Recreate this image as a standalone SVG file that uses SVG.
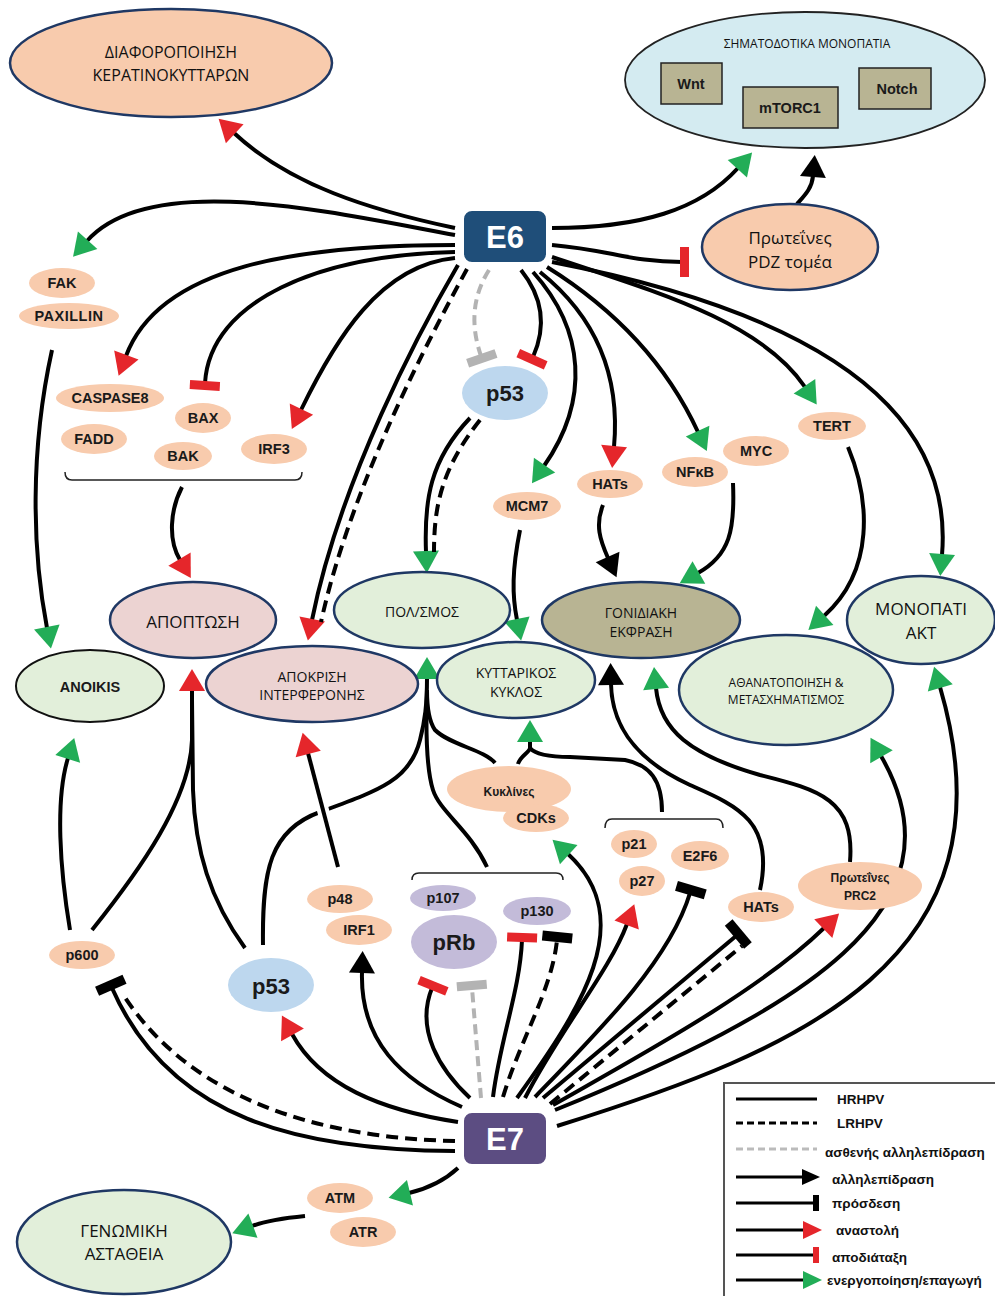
<svg xmlns="http://www.w3.org/2000/svg" width="995" height="1296" viewBox="0 0 995 1296">
<style>
.ln{fill:none;stroke:#000;stroke-width:4}
.ds{fill:none;stroke:#000;stroke-width:4;stroke-dasharray:12 7}
.gd{fill:none;stroke:#b3b3b3;stroke-width:4;stroke-dasharray:10 6}
.wh{fill:none;stroke:#fff;stroke-width:12}
.br{fill:none;stroke:#222;stroke-width:1.5}
.pe{fill:#f8cbad}
.big{stroke:#1f3864;stroke-width:2.5}
.gr{fill:#e2efda}
.pk{fill:#ecd3d2}
.kh{fill:#b8b493}
.sm{font-family:"Liberation Sans",Arial,sans-serif;font-weight:bold;font-size:14.5px;fill:#1a1a1a;text-anchor:middle;dominant-baseline:central}
.lg{font-family:"Open Sans","Liberation Sans",sans-serif;font-size:17px;fill:#111;text-anchor:middle;dominant-baseline:central}
.md{font-family:"Open Sans","Liberation Sans",sans-serif;font-size:14px;fill:#111;text-anchor:middle;dominant-baseline:central}
.box{font-family:"Liberation Sans",Arial,sans-serif;font-weight:bold;font-size:31px;fill:#fff;text-anchor:middle;dominant-baseline:central}
.leg{font-family:"Liberation Sans",Arial,sans-serif;font-weight:bold;font-size:13.5px;fill:#111;dominant-baseline:central}
</style>
<defs>
<marker id="mg" markerUnits="userSpaceOnUse" markerWidth="24" markerHeight="28" refX="1" refY="13" orient="auto" overflow="visible"><path d="M0,0 L22,13 L0,26 Z" fill="#22ad57"/></marker>
<marker id="mr" markerUnits="userSpaceOnUse" markerWidth="24" markerHeight="28" refX="1" refY="13" orient="auto" overflow="visible"><path d="M0,0 L22,13 L0,26 Z" fill="#e5262b"/></marker>
<marker id="mb" markerUnits="userSpaceOnUse" markerWidth="24" markerHeight="28" refX="1" refY="13" orient="auto" overflow="visible"><path d="M0,0 L22,13 L0,26 Z" fill="#000"/></marker>
<marker id="tr" markerUnits="userSpaceOnUse" markerWidth="10" markerHeight="30" refX="2" refY="15" orient="auto" overflow="visible"><rect x="0" y="0" width="9" height="30" fill="#e5262b"/></marker>
<marker id="tb" markerUnits="userSpaceOnUse" markerWidth="10" markerHeight="30" refX="2" refY="15" orient="auto" overflow="visible"><rect x="0" y="0" width="10" height="30" fill="#000"/></marker>
<marker id="tg" markerUnits="userSpaceOnUse" markerWidth="10" markerHeight="30" refX="2" refY="15" orient="auto" overflow="visible"><rect x="0" y="0" width="9" height="30" fill="#b3b3b3"/></marker>
</defs>
<rect width="995" height="1296" fill="#fff"/>

<g id="connectors">
<path class="ln" d="M455,228 C370,210 290,185 234,133" marker-end="url(#mr)"/>
<path class="ln" d="M455,235 C330,212 150,170 87,241" marker-end="url(#mg)"/>
<path class="ln" d="M455,245 C300,245 160,265 126,356" marker-end="url(#mr)"/>
<path class="ln" d="M455,252 C320,255 210,300 205,383" marker-end="url(#tr)"/>
<path class="ln" d="M455,258 C380,265 335,340 301,410" marker-end="url(#mr)"/>
<path class="ln" d="M458,265 C420,330 340,480 312,620" marker-end="url(#mr)"/>
<path class="ds" d="M467,269 C431,335 351,485 321,622"/>
<path class="gd" d="M489,270 C470,300 472,330 481,356" marker-end="url(#tg)"/>
<path class="ln" d="M521,270 C545,300 545,330 533,357" marker-end="url(#tr)"/>
<path class="ln" d="M533,272 C585,330 590,400 544,466" marker-end="url(#mg)"/>
<path class="ln" d="M540,272 C600,320 620,380 614,447" marker-end="url(#mr)"/>
<path class="ln" d="M547,267 C600,300 660,350 698,432" marker-end="url(#mg)"/>
<path class="ln" d="M552,257 C650,290 760,320 805,387" marker-end="url(#mg)"/>
<path class="ln" d="M552,262 C800,310 955,400 942,555" marker-end="url(#mg)"/>
<path class="ln" d="M552,228 C640,228 700,210 738,168" marker-end="url(#mg)"/>
<path class="ln" d="M552,245 C610,250 630,262 682,262" marker-end="url(#tr)"/>
<path class="ln" d="M797,204 C805,195 812,188 813,176" marker-end="url(#mb)"/>
<path class="ln" d="M52,350 C30,450 32,550 47,628" marker-end="url(#mg)"/>
<path class="ln" d="M470,418 C430,460 424,500 426,552" marker-end="url(#mg)"/>
<path class="ds" d="M480,420 C442,468 434,505 434,552"/>
<path class="ln" d="M520,530 C512,570 512,595 517,620" marker-end="url(#mg)"/>
<path class="ln" d="M603,505 C595,525 600,540 608,558" marker-end="url(#mb)"/>
<path class="ln" d="M733,483 C735,530 730,555 698,573" marker-end="url(#mg)"/>
<path class="ln" d="M848,447 C870,500 875,570 824,616" marker-end="url(#mg)"/>
<path class="br" d="M65,472 Q65,480 72,480 L295,480 Q302,480 302,472"/>
<path class="ln" d="M182,487 C170,510 168,540 180,560" marker-end="url(#mr)"/>
<path class="ln" d="M455,1151 C300,1150 170,1120 112,988" marker-end="url(#tb)"/>
<path class="ds" d="M455,1141 C320,1138 192,1100 124,996"/>
<path class="ln" d="M458,1122 C380,1110 320,1085 292,1034" marker-end="url(#mr)"/>
<path class="ln" d="M462,1107 C400,1080 360,1040 362,972" marker-end="url(#mb)"/>
<path class="ln" d="M470,1098 C440,1070 415,1030 432,988" marker-end="url(#tr)"/>
<path class="gd" d="M481,1098 L472,988" marker-end="url(#tg)"/>
<path class="ln" d="M493,1097 C500,1040 520,990 522,940" marker-end="url(#tr)"/>
<path class="ds" d="M503,1097 C520,1040 552,990 557,940" marker-end="url(#tb)"/>
<path class="ln" d="M517,1098 C580,1010 640,920 568,854" marker-end="url(#mg)"/>
<path class="ln" d="M525,1098 C560,1030 610,970 627,924" marker-end="url(#mr)"/>
<path class="ln" d="M535,1097 C600,1030 670,960 690,893" marker-end="url(#tb)"/>
<path class="ln" d="M543,1098 L736,936" marker-end="url(#tb)"/>
<path class="ds" d="M550,1104 L742,946"/>
<path class="ln" d="M553,1105 C650,1050 760,990 824,928" marker-end="url(#mr)"/>
<path class="ln" d="M555,1110 C800,1010 970,910 881,756" marker-end="url(#mg)"/>
<path class="ln" d="M557,1126 C800,1050 1020,960 940,687" marker-end="url(#mg)"/>
<path class="ln" d="M458,1168 C445,1180 430,1188 409,1193" marker-end="url(#mg)"/>
<path class="ln" d="M305,1216 C285,1218 268,1220 252,1226" marker-end="url(#mg)"/>
<path class="ln" d="M760,890 C775,820 735,805 690,785 C640,762 612,730 611,684" marker-end="url(#mb)"/>
<path class="ln" d="M850,862 C855,800 820,790 760,775 C690,755 660,730 656,688" marker-end="url(#mg)"/>
<path class="br" d="M605,828 Q605,819 612,819 L716,819 Q723,819 723,828"/>
<path class="br" d="M412,880 Q412,873 419,873 L556,873 Q563,873 563,880"/>
<path class="ln" d="M662,812 C662,780 650,765 625,760 L570,757 C548,757 535,754 530,748"/>
<path class="ln" d="M518,764 C520,756 530,752 530,748 L530,741" marker-end="url(#mg)"/>
<path class="ln" d="M263,945 C262,870 270,830 320,812 C380,790 410,780 420,740 C425,720 427,705 427,678" marker-end="url(#mg)"/>
<path class="ln" d="M495,763 C485,750 450,745 435,730 C428,720 427,705 427,690"/>
<path class="ln" d="M487,867 C470,830 440,812 433,790 C425,765 426,720 427,690"/>
<path class="ln" d="M70,930 C60,870 55,800 68,758" marker-end="url(#mg)"/>
<path class="ln" d="M92,930 C140,870 190,800 192,740 L192,690" marker-end="url(#mr)"/>
<path class="ln" d="M245,948 C210,900 195,850 193,790 L192,700"/>
<path class="wh" d="M336,860 L312,768"/>
<path class="ln" d="M338,867 L308,753" marker-end="url(#mr)"/>
</g>

<g id="n-diaf"><ellipse cx="171" cy="63" rx="161" ry="54" class="pe big"/><text class="lg" x="171" y="52" style="font-size:16px">ΔΙΑΦΟΡΟΠΟΙΗΣΗ</text><text class="lg" x="171" y="75" style="font-size:16px">ΚΕΡΑΤΙΝΟΚΥΤΤΑΡΩΝ</text></g>
<g id="n-sima"><ellipse cx="805" cy="80" rx="180" ry="68" fill="#d4ebf1" stroke="#222" stroke-width="1.8"/><text class="md" x="807" y="43" style="font-size:12px">ΣΗΜΑΤΟΔΟΤΙΚΑ ΜΟΝΟΠΑΤΙΑ</text>
<rect x="661" y="63" width="61" height="41" fill="#b8b493" stroke="#222" stroke-width="1.5"/><text class="sm" x="691" y="84">Wnt</text>
<rect x="743" y="87" width="95" height="41" fill="#b8b493" stroke="#222" stroke-width="1.5"/><text class="sm" x="790" y="108">mTORC1</text>
<rect x="859" y="68" width="72" height="41" fill="#b8b493" stroke="#222" stroke-width="1.5"/><text class="sm" x="897" y="89">Notch</text></g>
<g id="n-pdz"><ellipse cx="790" cy="247" rx="88" ry="43" class="pe big"/><text class="lg" x="790" y="237">Πρωτεΐνες</text><text class="lg" x="790" y="261">PDZ τομέα</text></g>
<g id="n-e6"><rect x="463" y="210" width="84" height="53" rx="9" fill="#1f4e79" stroke="#fff" stroke-width="2"/><text class="box" x="505" y="237">E6</text></g>
<g id="n-fak"><ellipse cx="62" cy="283" rx="33" ry="15" class="pe"/><text class="sm" x="62" y="283">FAK</text></g>
<g id="n-paxillin"><ellipse cx="69" cy="316" rx="50" ry="13" class="pe"/><text class="sm" x="69" y="316" style="letter-spacing:0.5px">PAXILLIN</text></g>
<g id="n-caspase8"><ellipse cx="110" cy="398" rx="54" ry="14" class="pe"/><text class="sm" x="110" y="398">CASPASE8</text></g>
<g id="n-fadd"><ellipse cx="94" cy="439" rx="33" ry="15" class="pe"/><text class="sm" x="94" y="439">FADD</text></g>
<g id="n-bax"><ellipse cx="203" cy="418" rx="28" ry="15" class="pe"/><text class="sm" x="203" y="418">BAX</text></g>
<g id="n-bak"><ellipse cx="183" cy="456" rx="29" ry="14" class="pe"/><text class="sm" x="183" y="456">BAK</text></g>
<g id="n-irf3"><ellipse cx="274" cy="449" rx="33" ry="15" class="pe"/><text class="sm" x="274" y="449">IRF3</text></g>
<g id="n-p53a"><ellipse cx="505" cy="393" rx="43" ry="27" fill="#bdd7ee"/><text class="sm" x="505" y="393" style="font-size:22px">p53</text></g>
<g id="n-mcm7"><ellipse cx="527" cy="506" rx="34" ry="14" class="pe"/><text class="sm" x="527" y="506">MCM7</text></g>
<g id="n-hats1"><ellipse cx="610" cy="484" rx="33" ry="14" class="pe"/><text class="sm" x="610" y="484">HATs</text></g>
<g id="n-nfkb"><ellipse cx="695" cy="472" rx="33" ry="15" class="pe"/><text class="sm" x="695" y="472">NFκB</text></g>
<g id="n-myc"><ellipse cx="756" cy="451" rx="33" ry="15" class="pe"/><text class="sm" x="756" y="451">MYC</text></g>
<g id="n-tert"><ellipse cx="832" cy="426" rx="34" ry="14" class="pe"/><text class="sm" x="832" y="426">TERT</text></g>
<g id="n-apoptosi"><ellipse cx="193" cy="620" rx="83" ry="38" class="pk big"/><text class="lg" x="193" y="621">ΑΠΟΠΤΩΣΗ</text></g>
<g id="n-anoikis"><ellipse cx="90" cy="686" rx="74" ry="36" class="gr" stroke="#111" stroke-width="2"/><text class="sm" x="90" y="687">ANOIKIS</text></g>
<g id="n-apokrisi"><ellipse cx="312" cy="684" rx="106" ry="38" class="pk big"/><text class="md" x="312" y="676">ΑΠΟΚΡΙΣΗ</text><text class="md" x="312" y="694">ΙΝΤΕΡΦΕΡΟΝΗΣ</text></g>
<g id="n-pol"><ellipse cx="422" cy="610" rx="88" ry="38" class="gr big"/><text class="md" x="422" y="611">ΠΟΛ/ΣΜΟΣ</text></g>
<g id="n-kyklos"><ellipse cx="516" cy="680" rx="79" ry="38" class="gr big"/><text class="md" x="516" y="672">ΚΥΤΤΑΡΙΚΟΣ</text><text class="md" x="516" y="691">ΚΥΚΛΟΣ</text></g>
<g id="n-athan"><ellipse cx="786" cy="690" rx="107" ry="55" class="gr big"/><text class="md" x="786" y="682" style="font-size:12px">ΑΘΑΝΑΤΟΠΟΙΗΣΗ &amp;</text><text class="md" x="786" y="699" style="font-size:12px">ΜΕΤΑΣΧΗΜΑΤΙΣΜΟΣ</text></g>
<g id="n-gonid"><ellipse cx="641" cy="620" rx="99" ry="38" class="kh big"/><text class="md" x="641" y="612">ΓΟΝΙΔΙΑΚΗ</text><text class="md" x="641" y="631">ΕΚΦΡΑΣΗ</text></g>
<g id="n-akt"><ellipse cx="921" cy="620" rx="74" ry="44" class="gr big"/><text class="lg" x="921" y="608">ΜΟΝΟΠΑΤΙ</text><text class="lg" x="921" y="632">ΑΚΤ</text></g>
<g id="n-kykl"><ellipse cx="509" cy="789" rx="62" ry="23" class="pe"/><text class="sm" x="509" y="792" style="font-size:12px">Κυκλίνες</text></g>
<g id="n-cdks"><ellipse cx="536" cy="818" rx="33" ry="14" class="pe"/><text class="sm" x="536" y="818">CDKs</text></g>
<g id="n-p21"><ellipse cx="634" cy="844" rx="23" ry="14" class="pe"/><text class="sm" x="634" y="844">p21</text></g>
<g id="n-e2f6"><ellipse cx="700" cy="856" rx="29" ry="15" class="pe"/><text class="sm" x="700" y="856">E2F6</text></g>
<g id="n-p27"><ellipse cx="642" cy="881" rx="23" ry="15" class="pe"/><text class="sm" x="642" y="881">p27</text></g>
<g id="n-hats2"><ellipse cx="761" cy="907" rx="33" ry="15" class="pe"/><text class="sm" x="761" y="907">HATs</text></g>
<g id="n-prc2"><ellipse cx="860" cy="886" rx="62" ry="24" class="pe"/><text class="sm" x="860" y="878" style="font-size:12px">Πρωτεΐνες</text><text class="sm" x="860" y="896" style="font-size:12px">PRC2</text></g>
<g id="n-p107"><ellipse cx="443" cy="898" rx="33" ry="13" fill="#c3bbd9"/><text class="sm" x="443" y="898">p107</text></g>
<g id="n-prb"><ellipse cx="454" cy="942" rx="43" ry="27" fill="#c3bbd9"/><text class="sm" x="454" y="942" style="font-size:22px">pRb</text></g>
<g id="n-p130"><ellipse cx="537" cy="911" rx="34" ry="14" fill="#c3bbd9"/><text class="sm" x="537" y="911">p130</text></g>
<g id="n-p48"><ellipse cx="340" cy="899" rx="33" ry="14" class="pe"/><text class="sm" x="340" y="899">p48</text></g>
<g id="n-irf1"><ellipse cx="359" cy="930" rx="33" ry="15" class="pe"/><text class="sm" x="359" y="930">IRF1</text></g>
<g id="n-p53b"><ellipse cx="271" cy="985" rx="43" ry="27" fill="#bdd7ee"/><text class="sm" x="271" y="986" style="font-size:22px">p53</text></g>
<g id="n-p600"><ellipse cx="82" cy="955" rx="33" ry="14" class="pe"/><text class="sm" x="82" y="955">p600</text></g>
<g id="n-e7"><rect x="463" y="1112" width="84" height="53" rx="9" fill="#5c4d82" stroke="#fff" stroke-width="2"/><text class="box" x="505" y="1139">E7</text></g>
<g id="n-atm"><ellipse cx="340" cy="1198" rx="33" ry="15" class="pe"/><text class="sm" x="340" y="1198">ATM</text></g>
<g id="n-atr"><ellipse cx="363" cy="1232" rx="33" ry="15" class="pe"/><text class="sm" x="363" y="1232">ATR</text></g>
<g id="n-genom"><ellipse cx="124" cy="1242" rx="107" ry="52" class="gr big"/><text class="lg" x="124" y="1230">ΓΕΝΩΜΙΚΗ</text><text class="lg" x="124" y="1253">ΑΣΤΑΘΕΙΑ</text></g>

<g id="legend">
<rect x="724" y="1083" width="290" height="230" fill="#fff" stroke="#555" stroke-width="2"/>
<line x1="736" y1="1099" x2="817" y2="1099" stroke="#000" stroke-width="3"/><text class="leg" x="837" y="1099">HRHPV</text>
<line x1="736" y1="1123" x2="817" y2="1123" stroke="#000" stroke-width="3" stroke-dasharray="7 4"/><text class="leg" x="837" y="1123">LRHPV</text>
<line x1="736" y1="1149" x2="817" y2="1149" stroke="#bbb" stroke-width="3" stroke-dasharray="7 4"/><text class="leg" x="825" y="1152">ασθενής αλληλεπίδραση</text>
<line x1="736" y1="1177" x2="804" y2="1177" stroke="#000" stroke-width="3"/><polygon points="802,1169 820,1177 802,1185" fill="#000"/><text class="leg" x="832" y="1179">αλληλεπίδραση</text>
<line x1="736" y1="1203" x2="814" y2="1203" stroke="#000" stroke-width="3"/><rect x="813" y="1195" width="6" height="16" fill="#000"/><text class="leg" x="832" y="1203">πρόσδεση</text>
<line x1="736" y1="1230" x2="805" y2="1230" stroke="#000" stroke-width="3"/><polygon points="803,1221 822,1230 803,1239" fill="#e5262b"/><text class="leg" x="836" y="1230">αναστολή</text>
<line x1="736" y1="1255" x2="814" y2="1255" stroke="#000" stroke-width="3"/><rect x="813" y="1247" width="6" height="16" fill="#e5262b"/><text class="leg" x="832" y="1257">αποδιάταξη</text>
<line x1="736" y1="1280" x2="805" y2="1280" stroke="#000" stroke-width="3"/><polygon points="803,1271 822,1280 803,1289" fill="#22ad57"/><text class="leg" x="827" y="1280">ενεργοποίηση/επαγωγή</text>
</g>
</svg>
